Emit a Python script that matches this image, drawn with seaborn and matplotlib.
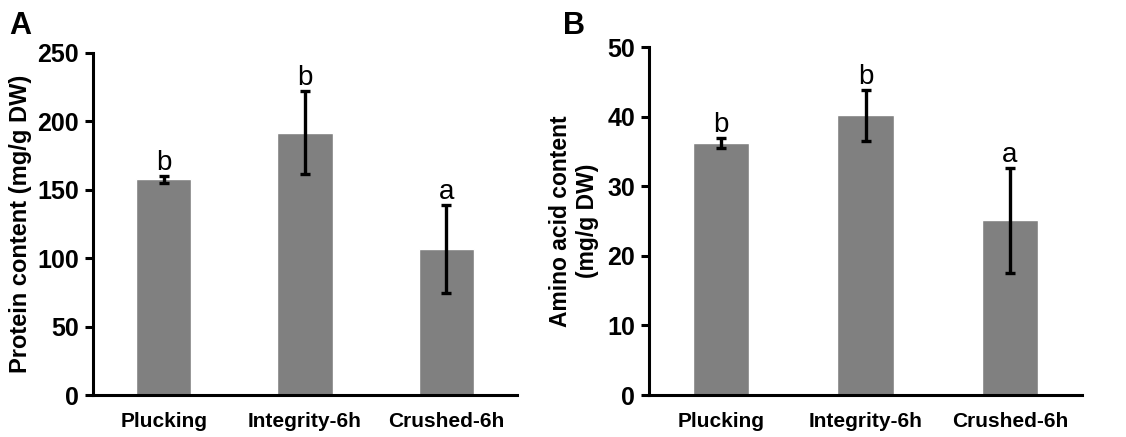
import numpy as np
import matplotlib
matplotlib.use("Agg")
import matplotlib.pyplot as plt
import seaborn as sns

# --- Data ---
categories = ["Plucking", "Integrity-6h", "Crushed-6h"]

protein_mean = [157.5, 191.8, 106.7]
protein_err = [2.6, 30.2, 31.8]
protein_letters = ["b", "b", "a"]

amino_mean = [36.2, 40.2, 25.1]
amino_err = [0.7, 3.7, 7.6]
amino_letters = ["b", "b", "a"]

BAR_COLOR = "#808080"

sns.set_style("white")
plt.rcParams["font.family"] = ["Liberation Sans", "DejaVu Sans"]
plt.rcParams["text.color"] = "black"
plt.rcParams["axes.labelcolor"] = "black"
plt.rcParams["xtick.color"] = "black"
plt.rcParams["ytick.color"] = "black"

fig = plt.figure(figsize=(11.26, 4.37), dpi=100)
ax_a = fig.add_axes([0.0826, 0.096, 0.3765, 0.783])
ax_b = fig.add_axes([0.5764, 0.096, 0.3846, 0.796])


def draw_panel(ax, means, errs, letters, ylim, yticks, ylabel, ylabel_size, ylabel_pad):
    sns.barplot(x=categories, y=means, color=BAR_COLOR, width=0.39,
                saturation=1, errorbar=None, ax=ax)
    xpos = np.arange(len(categories))
    ax.errorbar(xpos, means, yerr=errs, fmt="none", ecolor="black",
                elinewidth=2.4, capsize=3.6, capthick=2.4)
    for x, m, e, lab in zip(xpos, means, errs, letters):
        ax.annotate(lab, (x, m + e), xytext=(0, 0), textcoords="offset points",
                    ha="center", va="bottom", fontsize=20, color="black")

    ax.set_xlim(-0.5, len(categories) - 0.5)
    ax.set_ylim(*ylim)
    ax.set_yticks(yticks)
    ax.set_yticklabels([str(t) for t in yticks], fontsize=18, fontweight="bold")

    # category labels at bar centres, tick marks between categories
    ax.set_xticks(xpos)
    ax.set_xticklabels(categories, fontsize=15, fontweight="bold")
    ax.set_xticks(np.arange(-0.5, len(categories)), minor=True)
    ax.tick_params(axis="x", which="major", length=0, pad=12, labelcolor="black")
    ax.tick_params(axis="x", which="minor", length=6, width=2.2,
                   direction="out", color="black")
    ax.tick_params(axis="y", length=6, width=2.2, direction="out",
                   color="black", labelcolor="black", pad=4, left=True)

    ax.set_ylabel(ylabel, fontsize=ylabel_size, fontweight="bold",
                  labelpad=ylabel_pad, color="black")
    ax.set_xlabel("")

    for side in ["top", "right"]:
        ax.spines[side].set_visible(False)
    for side in ["left", "bottom"]:
        ax.spines[side].set_linewidth(2.2)
        ax.spines[side].set_color("black")


draw_panel(ax_a, protein_mean, protein_err, protein_letters,
           (0, 250), [0, 50, 100, 150, 200, 250],
           "Protein content (mg/g DW)", 17, 4)
draw_panel(ax_b, amino_mean, amino_err, amino_letters,
           (0, 50), [0, 10, 20, 30, 40, 50],
           "Amino acid content\n(mg/g DW)", 16.5, 6)

fig.text(0.008, 0.975, "A", fontsize=22, fontweight="bold", va="top", ha="left",
         color="black")
fig.text(0.5, 0.975, "B", fontsize=22, fontweight="bold", va="top", ha="left",
         color="black")

fig.savefig("out.png", dpi=100)
